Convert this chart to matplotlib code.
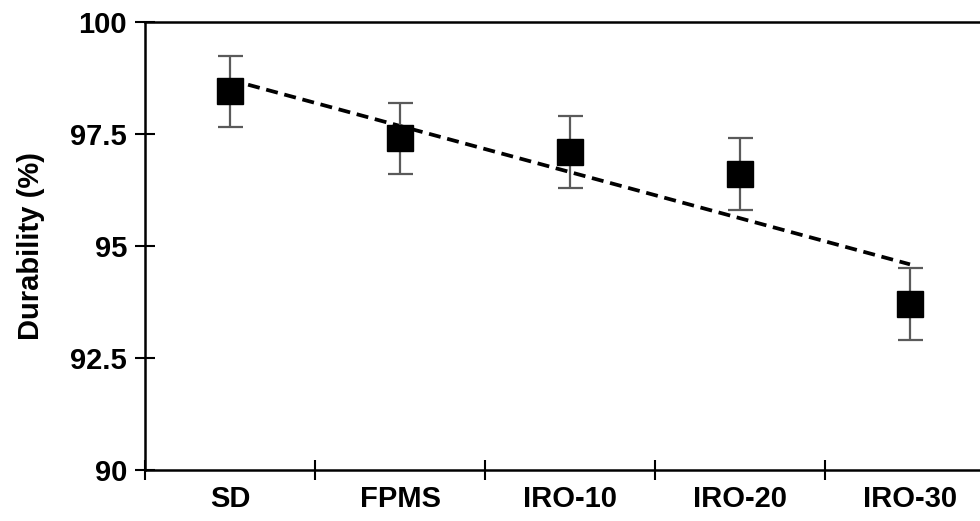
import numpy as np
import matplotlib.pyplot as plt

plt.rcParams['font.family'] = ['Liberation Sans', 'DejaVu Sans']
plt.rcParams['font.weight'] = 'bold'

# Durability per sample
samples = ["SD", "FPMS", "IRO-10", "IRO-20", "IRO-30"]
durability = [98.45, 97.4, 97.1, 96.6, 93.7]
errors = [0.8, 0.8, 0.8, 0.8, 0.8]

x = np.arange(len(samples))

fig = plt.figure(figsize=(9.8, 5.21), dpi=100)
ax = fig.add_axes([145 / 980, 51 / 521, 850 / 980, 448 / 521])

# linear trend line (Excel style)
k, b = np.polyfit(x, durability, 1)
ax.plot(x, k * x + b, color='black', linestyle=(0, (3.2, 1.8)), linewidth=2.7, zorder=2)

ax.errorbar(x, durability, yerr=errors, fmt='none', ecolor='#5a5a5a',
            elinewidth=1.6, capsize=9, capthick=1.6, zorder=3)
ax.plot(x, durability, linestyle='none', marker='s', markersize=19,
        color='black', zorder=4)

ax.set_xlim(-0.5, len(samples) - 0.5)
ax.set_ylim(90, 100)
ax.set_yticks([90, 92.5, 95, 97.5, 100])
ax.set_yticklabels(["90", "92.5", "95", "97.5", "100"])
ax.set_xticks(x)
ax.set_xticklabels(samples)
ax.set_xticks(np.arange(-0.5, len(samples), 1), minor=True)

ax.tick_params(axis='y', direction='inout', length=14, width=1.5, labelsize=21, pad=6)
ax.tick_params(axis='x', which='major', length=0, labelsize=21, pad=11)
ax.tick_params(axis='x', which='minor', direction='inout', length=14, width=1.5)

for side in ['left', 'bottom', 'top']:
    ax.spines[side].set_linewidth(1.8)
ax.spines['right'].set_visible(False)

ax.set_ylabel("Durability (%)", fontsize=21, fontweight='bold', labelpad=18)

fig.savefig("out.png", dpi=100)
